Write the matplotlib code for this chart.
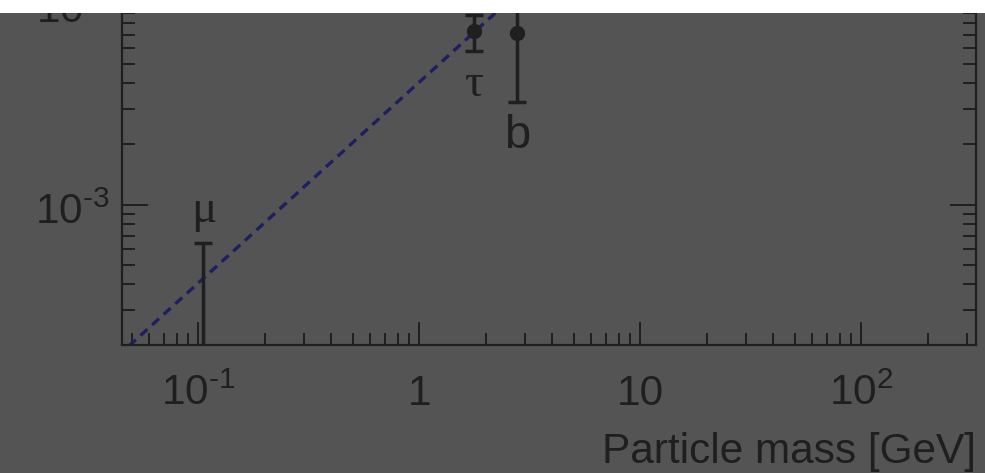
import numpy as np
import matplotlib
matplotlib.use('Agg')
import matplotlib.pyplot as plt
from matplotlib.patches import Rectangle
from matplotlib.ticker import LogLocator, NullFormatter, FixedLocator
import matplotlib.transforms as mtransforms

# ---- data ----
particles = ['μ', 'τ', 'b']
mass = [0.1057, 1.777, 2.76]
coupling = [1.5e-4, 7.26e-3, 7.12e-3]
err_low = [1.0e-5, 5.82e-3, 3.22e-3]
err_high = [6.42e-4, 8.8e-3, 3.0e-2]
label_y = [8.2e-4, 3.48e-3, 1.91e-3]

line_mass = [0.03, 5.0]
line_coupling = [1.22e-4, 2.03e-2]

x_tick_values = [0.1, 1, 10, 100]
x_tick_labels = ['$\\mathregular{10^{\u2010 1}}$', '1', '10', '$\\mathregular{10^{2}}$']
y_tick_values = [1e-3, 1e-2]
y_tick_labels = ['$\\mathregular{10^{\u2010 3}}$', '$\\mathregular{10^{\u2010 2}}$']
x_title = 'Particle mass [GeV]'

xlim = (0.045, 330)
ylim = (2e-4, 2e-2)

# ---- style ----
BG = '#545454'
DARK = '#1f1f1f'
NAVY = '#1e1e62'

plt.rcParams['font.family'] = ['Liberation Sans', 'DejaVu Sans']
plt.rcParams['mathtext.fontset'] = 'custom'
plt.rcParams['mathtext.rm'] = 'Liberation Sans'
plt.rcParams['mathtext.it'] = 'Liberation Sans:italic'
plt.rcParams['mathtext.bf'] = 'Liberation Sans:bold'
plt.rcParams['mathtext.sf'] = 'Liberation Sans'

W, H = 985, 473
fig = plt.figure(figsize=(W / 100, H / 100), dpi=100, facecolor=BG)
ax = fig.add_axes([121.5 / W, (H - 345) / H, (976 - 121.5) / W, 402 / H])
ax.set_facecolor(BG)
ax.set_xscale('log')
ax.set_yscale('log')
ax.set_xlim(*xlim)
ax.set_ylim(*ylim)

# theory line
ax.plot(line_mass, line_coupling, color=NAVY, lw=2.4, linestyle=(0, (2.8, 1.9)), zorder=2)

# data points
c = np.array(coupling)
yerr = [c - np.array(err_low), np.array(err_high) - c]
ax.errorbar(mass, coupling, yerr=yerr, fmt='o', color=DARK, ms=10,
            elinewidth=2.5, capsize=6.5, capthick=2.5, zorder=3)

for name, m, ly in zip(particles, mass, label_y):
    fam = ['Liberation Serif', 'DejaVu Serif'] if name in ('μ', 'τ') else ['Liberation Sans']
    ax.text(m, ly, name, ha='center', va='baseline', fontsize=34, color=DARK, family=fam)

# spines and ticks
for s in ax.spines.values():
    s.set_color(DARK)
    s.set_linewidth(1.6)

ax.xaxis.set_major_locator(FixedLocator(x_tick_values))
ax.yaxis.set_major_locator(FixedLocator(y_tick_values))
ax.xaxis.set_minor_locator(LogLocator(base=10, subs=np.arange(2, 10), numticks=50))
ax.yaxis.set_minor_locator(LogLocator(base=10, subs=np.arange(2, 10), numticks=50))
ax.xaxis.set_minor_formatter(NullFormatter())
ax.yaxis.set_minor_formatter(NullFormatter())
ax.tick_params(which='both', direction='in', top=True, right=True, width=1.4, color=DARK,
               labelbottom=False, labelleft=False)
ax.tick_params(axis='x', which='major', length=16.6)
ax.tick_params(axis='x', which='minor', length=8.6)
ax.tick_params(axis='y', which='major', length=18.7)
ax.tick_params(axis='y', which='minor', length=9.4)

# manual tick labels (baseline aligned)
tx = mtransforms.blended_transform_factory(ax.transData, ax.transAxes) + \
    mtransforms.ScaledTranslation(0, -60 / 100, fig.dpi_scale_trans)
for v, lab in zip(x_tick_values, x_tick_labels):
    ax.text(v, 0, lab, transform=tx, ha='center', va='baseline', fontsize=30.5, color=DARK)

ty = mtransforms.blended_transform_factory(ax.transAxes, ax.transData) + \
    mtransforms.ScaledTranslation(-11.5 / 100, -19.5 / 100, fig.dpi_scale_trans)
for v, lab in zip(y_tick_values, y_tick_labels):
    ax.text(0, v, lab, transform=ty, ha='right', va='baseline', fontsize=30.5, color=DARK,
            clip_on=False)

# axis title
ax.set_xlabel(x_title, fontsize=30.5, color=DARK, ha='right', va='baseline')
ax.xaxis.set_label_coords(1.0, -(463.3 - 345) / 402)

# white strip at the top
fig.add_artist(Rectangle((0, 1 - 13 / H), 1, 13 / H, transform=fig.transFigure,
                         facecolor='white', edgecolor='none', zorder=20))

fig.savefig('out.png', dpi=100, facecolor=BG)
